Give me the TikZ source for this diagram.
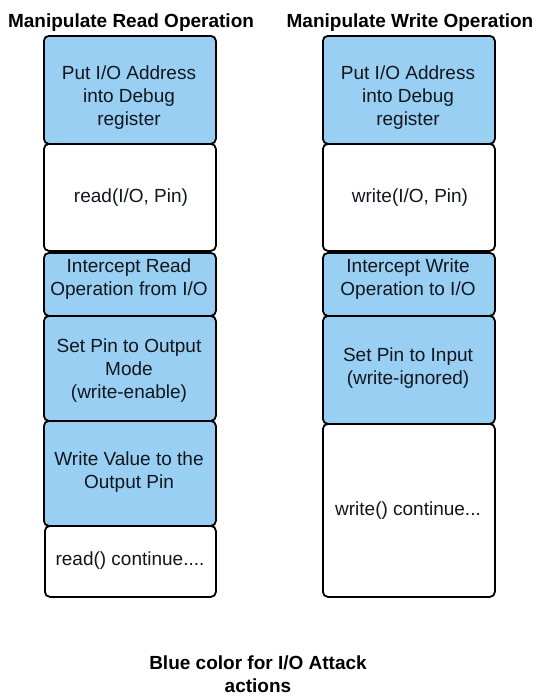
\documentclass[tikz,border=0pt]{standalone}
\usepackage{fontspec}
\setmainfont{Liberation Sans}
\definecolor{actblue}{RGB}{153,207,242}
\definecolor{ink}{RGB}{18,22,30}
\begin{document}
\begin{tikzpicture}[x=1pt,y=-1pt,
  box/.style={draw=black, line width=1.8pt, rounded corners=5pt, anchor=north west, inner sep=0pt},
  actbox/.style={box, fill=actblue},
  plainbox/.style={box, fill=white},
  txt/.style={font=\fontsize{19}{23}\selectfont, text=ink, align=center, inner sep=0pt},
  ttl/.style={font=\bfseries\fontsize{19}{23}\selectfont, text=black, align=center, inner sep=0pt}]
\useasboundingbox[fill=white] (0,0) rectangle (541,696);

% titles
\node[ttl] (tl) at (131,23) {Manipulate Read Operation};
\node[ttl] (tr) at (410,23) {Manipulate Write Operation};

% left column
\node[actbox,   minimum width=172pt, minimum height=108pt] (l1) at (43,35) {};
\node[plainbox, minimum width=172pt, minimum height=107pt] (l2) at (43,143) {};
\node[actbox,   minimum width=172pt, minimum height=63pt]  (l3) at (43,252) {};
\node[actbox,   minimum width=172pt, minimum height=105pt] (l4) at (43,315) {};
\node[actbox,   minimum width=172pt, minimum height=105pt] (l5) at (43,420) {};
\node[plainbox, minimum width=171pt, minimum height=71pt]  (l6) at (44,525) {};

\node[txt] (l1t) at (129,98) {Put I/O Address\\into Debug\\register};
\node[txt] (l2t) at (131,198) {read(I/O, Pin)};
\node[txt] (l3t) at (129,279.5) {Intercept Read\\Operation from I/O};
\node[txt] (l4t) at (129,370.5) {Set Pin to Output\\Mode\\(write-enable)};
\node[txt] (l5t) at (129,472.5) {Write Value to the\\Output Pin};
\node[txt] (l6t) at (130,561) {read() continue....};

% right column
\node[actbox,   minimum width=172pt, minimum height=108pt] (r1) at (322,35) {};
\node[plainbox, minimum width=172pt, minimum height=107pt] (r2) at (322,143) {};
\node[actbox,   minimum width=172pt, minimum height=63pt]  (r3) at (322,252) {};
\node[actbox,   minimum width=172pt, minimum height=108pt] (r4) at (322,315) {};
\node[plainbox, minimum width=172pt, minimum height=173pt] (r5) at (322,423) {};

\node[txt] (r1t) at (408,98) {Put I/O Address\\into Debug\\register};
\node[txt] (r2t) at (410,198) {write(I/O, Pin)};
\node[txt] (r3t) at (408,279.5) {Intercept Write\\Operation to I/O};
\node[txt] (r4t) at (408,368.5) {Set Pin to Input\\(write-ignored)};
\node[txt] (r5t) at (408,511) {write() continue...};

% caption
\node[ttl] (cap) at (258,674) {Blue color for I/O Attack\\actions};
\end{tikzpicture}
\end{document}
